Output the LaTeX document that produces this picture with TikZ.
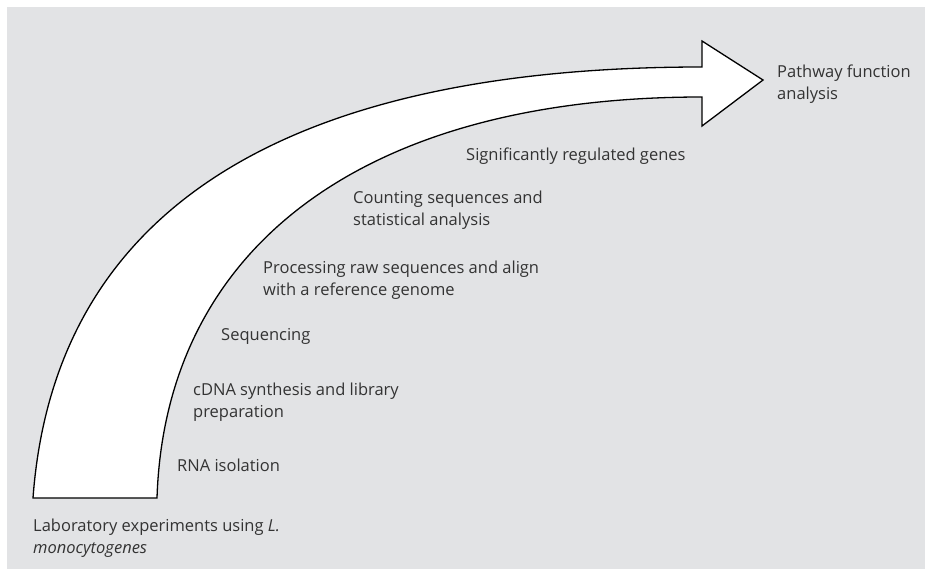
\documentclass[tikz,border=0pt]{standalone}
\usepackage{fontspec}
\setmainfont{Open Sans}
\definecolor{panelgray}{HTML}{E2E3E5}
\definecolor{labeltext}{HTML}{333333}
\begin{document}
\begin{tikzpicture}[
        x=1pt, y=-1pt,
        step label/.style={anchor=west, inner sep=0pt, align=left, text=labeltext, font=\fontsize{16.5}{22}\selectfont},
        flow arrow/.style={draw=black, fill=white, line width=1.3pt, line join=miter}
    ]
    
    \useasboundingbox (0,0) rectangle (925,569);
    \fill[white] (0,0) rectangle (925,569);
    \fill[panelgray] (7,7) rectangle (925,569);
    
    % curved arrow
    \coordinate (baseL) at (33,498);
    \coordinate (baseR) at (157,498);
    \coordinate (shaftLow) at (702,97);
    \coordinate (headLow) at (702,126);
    \coordinate (tip) at (763,80);
    \coordinate (headUp) at (702,41);
    \coordinate (shaftUp) at (702,67);
    \draw[flow arrow] (baseL) -- (baseR)
        .. controls (165,250) and (360,97) .. (shaftLow)
        -- (headLow) -- (tip) -- (headUp) -- (shaftUp)
        .. controls (300,67) and (55,200) .. (baseL) -- cycle;
    
    % steps
    \node[step label] (lab) at (33,538) {Laboratory experiments using \textit{L.}\\\textit{monocytogenes}};
    \node[step label] (rna) at (177,465) {RNA isolation};
    \node[step label] (cdna) at (193,402) {cDNA synthesis and library\\preparation};
    \node[step label] (seq) at (221,336) {Sequencing};
    \node[step label] (proc) at (263,280) {Processing raw sequences and align\\with a reference genome};
    \node[step label] (count) at (353,210) {Counting sequences and\\statistical analysis};
    \node[step label] (sig) at (466,156) {Significantly regulated genes};
    \node[step label] (path) at (777,84) {Pathway function\\analysis};
    
    \end{tikzpicture}
\end{document}
